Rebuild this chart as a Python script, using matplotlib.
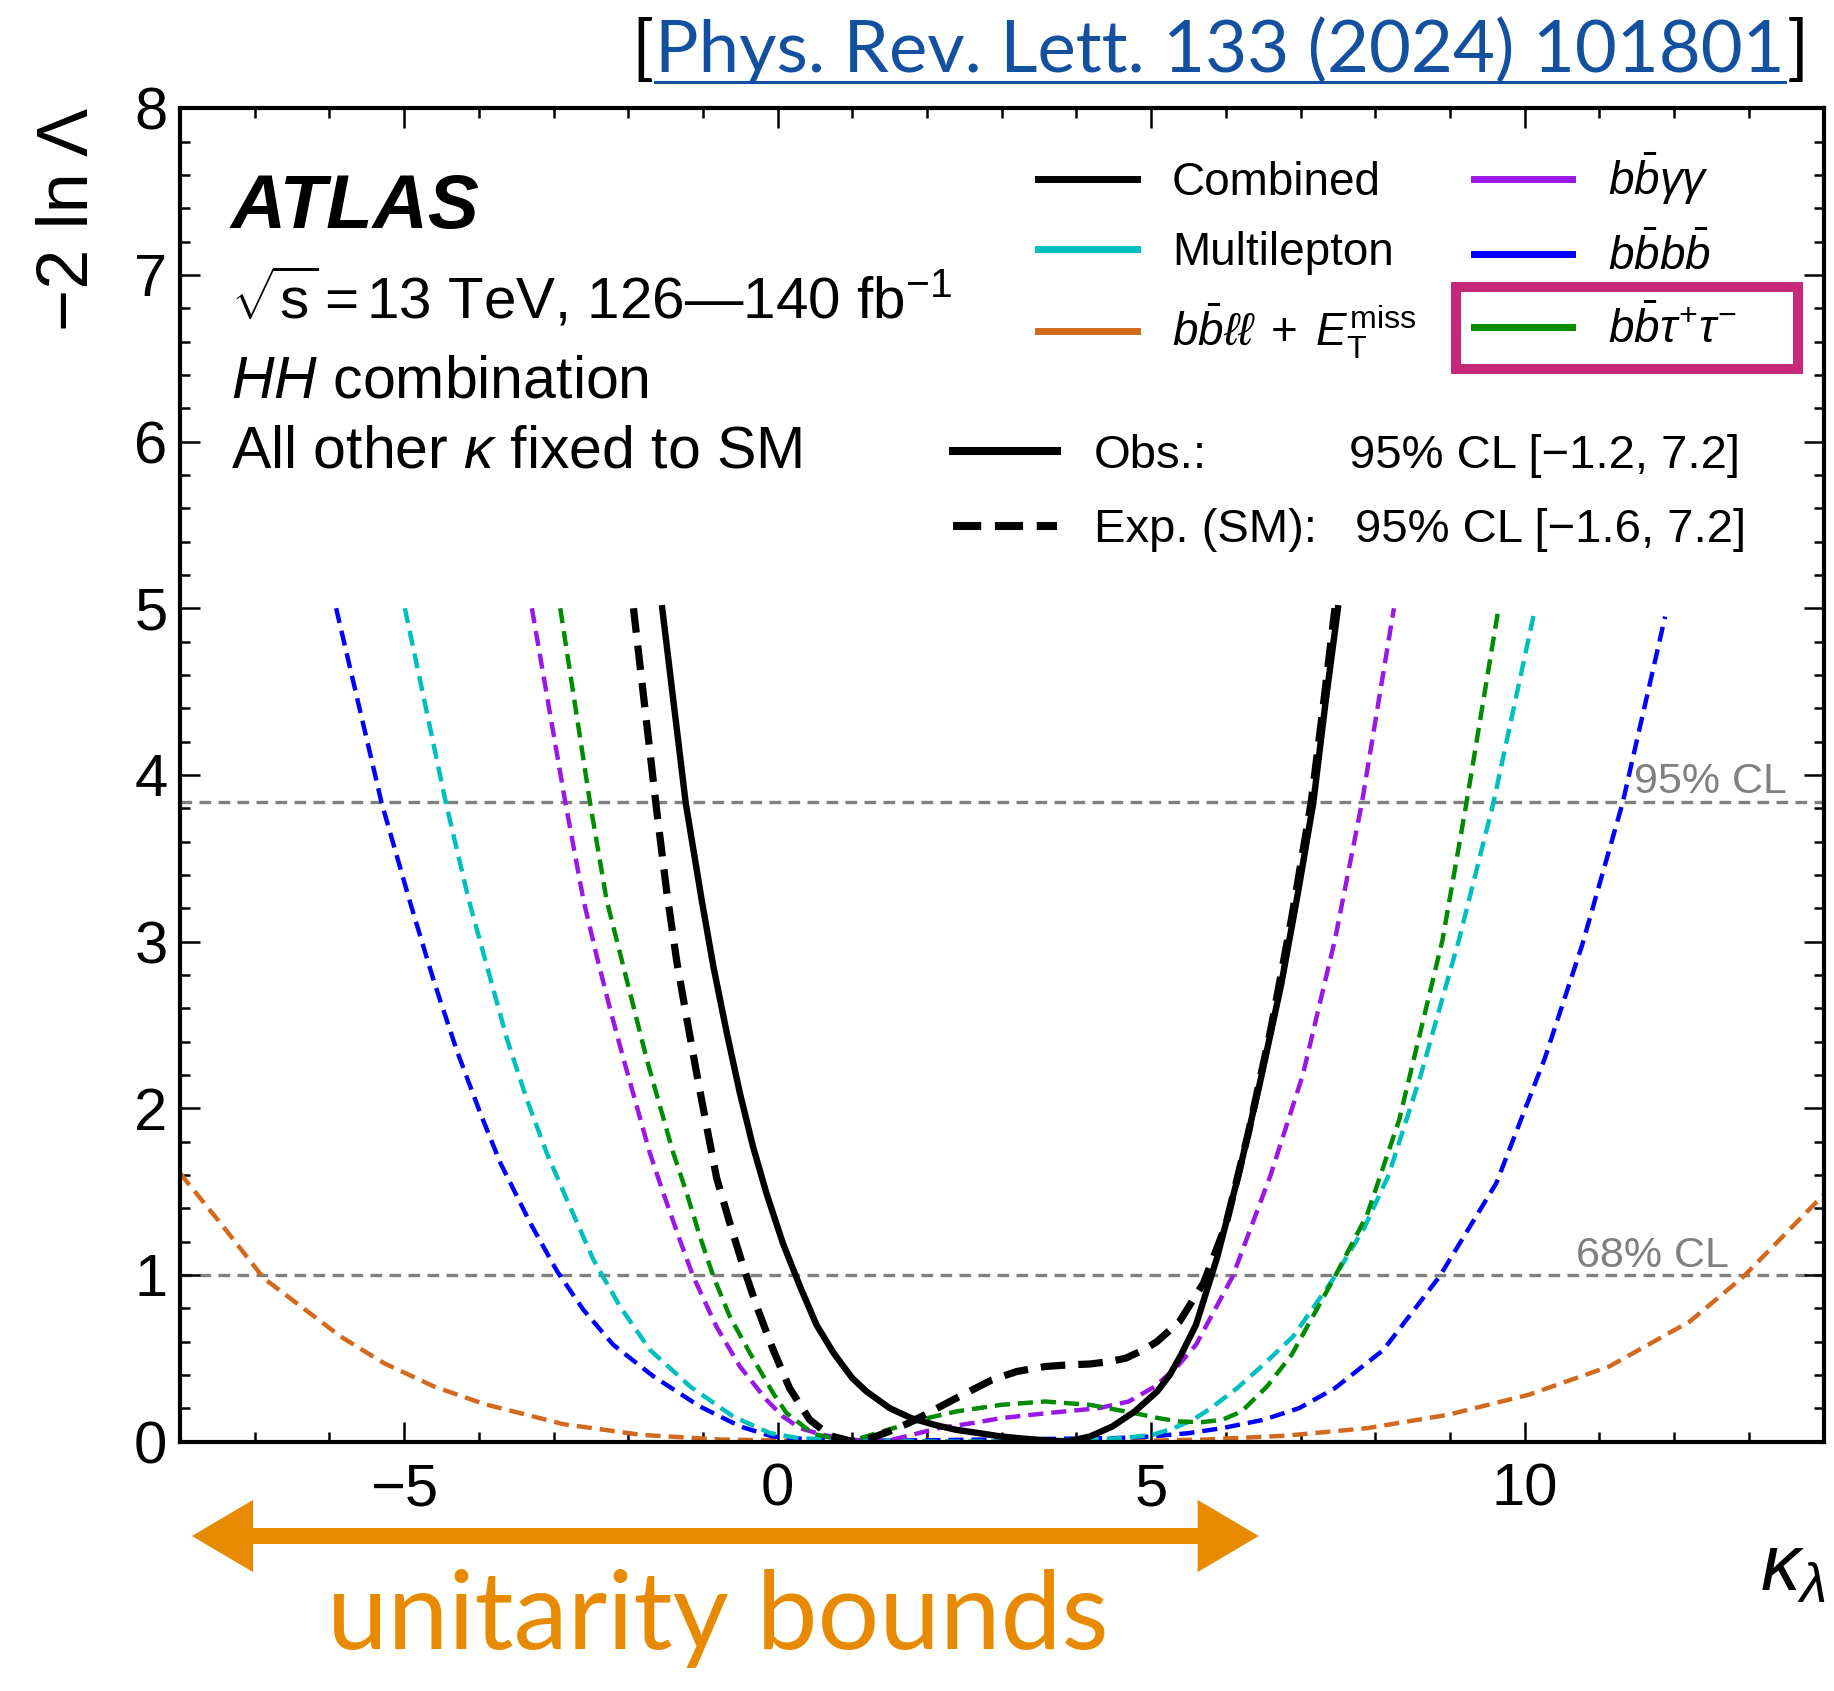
import matplotlib
matplotlib.use('Agg')
import matplotlib.pyplot as plt
import matplotlib.transforms as mtransforms
from matplotlib.lines import Line2D
from matplotlib.patches import Rectangle, FancyArrowPatch
from matplotlib.ticker import MultipleLocator

plt.rcParams['font.family'] = ['Liberation Sans', 'DejaVu Sans']
plt.rcParams['mathtext.fontset'] = 'custom'
plt.rcParams['mathtext.rm'] = 'Liberation Sans'
plt.rcParams['mathtext.it'] = 'Liberation Sans:italic'
plt.rcParams['mathtext.bf'] = 'Liberation Sans:bold'

# -2 ln Lambda scans vs kappa_lambda
obs_x = [-1.545, -1.23, -1.017, -0.86, -0.68, -0.505, -0.33, -0.15, 0.07, 0.30, 0.52, 0.75, 1.0,
         1.19, 1.5, 1.79, 2.1, 2.39, 2.7, 2.99, 3.3, 3.58, 3.88, 4.18, 4.48, 4.78, 5.08, 5.25, 5.4,
         5.6, 5.88, 6.17, 6.45, 6.74, 6.96, 7.17, 7.33, 7.5]
obs_y = [5.0, 3.83, 3.25, 2.85, 2.45, 2.09, 1.77, 1.49, 1.19, 0.93, 0.70, 0.53, 0.38,
         0.30, 0.20, 0.14, 0.10, 0.07, 0.05, 0.03, 0.017, 0.007, 0.0, 0.03, 0.09, 0.18, 0.30, 0.40,
         0.52, 0.70, 1.10, 1.60, 2.14, 2.74, 3.28, 3.83, 4.42, 5.0]

exp_x = [-1.93, -1.62, -1.485, -1.35, -1.217, -1.08, -0.95, -0.816, -0.64, -0.46, -0.28, -0.06,
         0.16, 0.43, 0.7, 1.0, 1.25, 1.49, 1.75, 1.97, 2.39, 2.87, 3.2, 3.58, 3.9, 4.18, 4.45, 4.66,
         4.9, 5.08, 5.38, 5.7, 6.0, 6.3, 6.6, 6.88, 7.14, 7.3, 7.46]
exp_y = [5.0, 3.79, 3.3, 2.88, 2.54, 2.2, 1.89, 1.58, 1.31, 1.05, 0.81, 0.55,
         0.32, 0.13, 0.035, 0.0, 0.02, 0.06, 0.11, 0.16, 0.26, 0.37, 0.42, 0.45, 0.46, 0.465, 0.48,
         0.5, 0.55, 0.6, 0.72, 0.95, 1.3, 1.85, 2.47, 3.14, 3.83, 4.4, 5.0]

yy_x = [-3.29, -2.84, -2.60, -2.42, -2.24, -2.06, -1.885, -1.71, -1.53, -1.31, -1.13, -0.82,
        -0.505, -0.15, 0.07, 0.3, 0.6, 1.0, 1.43, 1.8, 2.15, 2.6, 2.99, 3.6, 4.3, 4.7, 5.05, 5.35,
        5.6, 6.09, 6.6, 7.03, 7.46, 7.82, 8.25]
yy_y = [5.0, 3.83, 3.25, 2.91, 2.59, 2.29, 2.01, 1.73, 1.49, 1.21, 0.99, 0.69,
        0.45, 0.25, 0.15, 0.08, 0.04, 0.01, 0.0, 0.04, 0.08, 0.11, 0.14, 0.17, 0.2, 0.24, 0.33, 0.45,
        0.58, 0.99, 1.6, 2.2, 3.01, 3.83, 5.0]

tautau_x = [-2.91, -2.51, -2.29, -2.11, -1.93, -1.75, -1.574, -1.396, -1.217, -1.04, -0.86, -0.64,
            -0.37, -0.06, 0.12, 0.48, 0.96, 1.55, 2.0, 2.39, 2.99, 3.58, 4.18, 4.78, 5.1, 5.38,
            5.68, 5.95, 6.21, 6.55, 6.88, 7.46, 7.89, 8.32, 8.61, 8.9, 9.22, 9.65]
tautau_y = [5.0, 3.83, 3.25, 2.93, 2.61, 2.29, 2.01, 1.73, 1.49, 1.23, 0.99, 0.75,
            0.53, 0.29, 0.17, 0.045, 0.0, 0.08, 0.14, 0.18, 0.22, 0.24, 0.22, 0.17, 0.14, 0.12,
            0.116, 0.13, 0.18, 0.33, 0.52, 0.99, 1.36, 1.93, 2.47, 3.01, 3.83, 5.0]

ml_x = [-4.99, -4.44, -4.135, -3.89, -3.62, -3.355, -3.09, -2.82, -2.465, -2.11, -1.71, -1.17,
        -0.595, -0.1, 0.28, 1.0, 2.0, 3.0, 4.0, 4.6, 5.02, 5.3, 5.56, 5.8, 6.15, 6.5, 6.9, 7.46,
        7.85, 8.18, 8.61, 9.12, 9.58, 10.14]
ml_y = [5.0, 3.83, 3.25, 2.85, 2.41, 2.05, 1.73, 1.45, 1.09, 0.81, 0.55, 0.33,
        0.15, 0.05, 0.02, 0.005, 0.0, 0.0, 0.01, 0.02, 0.04, 0.08, 0.13, 0.2, 0.32, 0.46, 0.63, 0.99,
        1.28, 1.6, 2.2, 3.01, 3.83, 5.0]

bbbb_x = [-5.91, -5.30, -4.91, -4.60, -4.29, -3.98, -3.71, -3.31, -2.95, -2.60, -2.20, -1.66,
          -1.04, -0.5, -0.07, 0.5, 1.5, 2.5, 3.5, 4.5, 5.0, 5.5, 5.95, 6.5, 6.98, 7.46, 8.11, 8.86,
          9.62, 10.27, 10.77, 11.31, 11.88]
bbbb_y = [5.0, 3.83, 3.22, 2.76, 2.34, 1.97, 1.67, 1.31, 1.02, 0.79, 0.58, 0.39,
          0.21, 0.09, 0.03, 0.01, 0.005, 0.01, 0.015, 0.02, 0.03, 0.05, 0.08, 0.13, 0.2, 0.32, 0.55,
          0.99, 1.55, 2.3, 2.98, 3.83, 4.95]

bbll_x = [-8.0, -7.44, -6.88, -6.38, -5.85, -5.27, -4.60, -3.93, -3.27, -2.88, -1.83, -0.77, 0.5,
          2.0, 3.5, 5.0, 5.73, 6.81, 7.89, 8.97, 10.05, 11.13, 12.21, 12.93, 14.0]
bbll_y = [1.61, 1.30, 0.98, 0.81, 0.63, 0.47, 0.33, 0.225, 0.15, 0.105, 0.04, 0.012, 0.002,
          0.0, 0.0, 0.005, 0.012, 0.035, 0.08, 0.16, 0.28, 0.45, 0.72, 0.99, 1.48]

cl_levels = [1.0, 3.84]
cl_names = ['68% CL', '95% CL']
cl_label_x = [12.74, 13.51]
unitarity = [-7.84, 6.44]

c_yy = '#9a17e6'
c_ml = '#00bfbf'
c_bbbb = '#0000ff'
c_tt = '#008c00'
c_bbll = '#d2691e'
c_orange = '#e88a00'
c_link = '#1450a0'

W, H = 1834, 1691
fig = plt.figure(figsize=(W / 100, H / 100), dpi=100)
ax = fig.add_axes([180 / W, 1 - 1441.5 / H, 1643.5 / W, 1333.2 / H])

for lev in cl_levels:
    ax.axhline(lev, color='#808080', lw=2.4, dashes=(3.5, 2.2), zorder=1)
for lev, name, xl in zip(cl_levels, cl_names, cl_label_x):
    ax.text(xl, lev + 0.05, name, ha='right', va='baseline', fontsize=31, color='#808080')

dash_kw = dict(lw=3.2, dashes=(3.4, 1.8))
ax.plot(bbll_x, bbll_y, color=c_bbll, **dash_kw)
ax.plot(bbbb_x, bbbb_y, color=c_bbbb, **dash_kw)
ax.plot(ml_x, ml_y, color=c_ml, **dash_kw)
ax.plot(yy_x, yy_y, color=c_yy, **dash_kw)
ax.plot(tautau_x, tautau_y, color=c_tt, **dash_kw)
ax.plot(exp_x, exp_y, color='k', lw=5.2, dashes=(3.4, 1.8))
ax.plot(obs_x, obs_y, color='k', lw=4.6)

ax.set_xlim(-8, 14)
ax.set_ylim(0, 8)
ax.set_xticks([-5, 0, 5, 10])
ax.set_xticklabels(['\u22125', '0', '5', '10'])
ax.xaxis.set_minor_locator(MultipleLocator(1))
ax.yaxis.set_minor_locator(MultipleLocator(0.2))
ax.tick_params(which='both', direction='in', top=True, right=True, labelsize=43, width=1.8)
ax.tick_params(which='major', length=14.5)
ax.tick_params(which='minor', length=7.2)
ax.tick_params(axis='y', pad=9)
ax.tick_params(axis='x', pad=15)
for s in ax.spines.values():
    s.set_linewidth(3.0)

# axis titles
fig.text(70 / W, 1 - 108 / H, '\u22122 ln \u039b', rotation=90, ha='center', va='top', fontsize=52)
fig.text(1826 / W, 1 - 1590 / H, r'$\kappa_{\lambda}$', ha='right', va='baseline', fontsize=57)

# ATLAS label block
tx = 231 / W
fig.text(tx, 1 - 228 / H, 'ATLAS', fontsize=55, fontweight='bold', fontstyle='italic', va='baseline')
fig.text(tx, 1 - 318 / H, '$\\sqrt{\\mathrm{s}}\\,$=$\\,$13 TeV, 126\u2014140 fb$^{-1}$',
         fontsize=42, va='baseline')
fig.text(tx, 1 - 397 / H, r'$HH$ combination', fontsize=42.5, va='baseline')
fig.text(tx, 1 - 467 / H, r'All other $\kappa$ fixed to SM', fontsize=42.5, va='baseline')

# legends
ch_labels = ['Combined', 'Multilepton', r'$b\bar{b}\ell\ell\;+\;E_{\mathrm{T}}^{\mathrm{miss}}$',
             r'$b\bar{b}\gamma\gamma$', r'$b\bar{b}b\bar{b}$', r'$b\bar{b}\tau^{+}\tau^{-}$']
ch_colors = ['k', c_ml, c_bbll, c_yy, c_bbbb, c_tt]
h1 = [Line2D([], [], color=c, lw=5.0) for c in ch_colors]
leg1 = ax.legend(h1, ch_labels, ncol=2, loc='upper left',
                 bbox_to_anchor=(1038 / W, 1 - 150 / H), bbox_transform=fig.transFigure,
                 frameon=False, fontsize=33, handlelength=2.15, handletextpad=0.77,
                 columnspacing=1.25, labelspacing=0.58, borderpad=0, borderaxespad=0)
ax.add_artist(leg1)

h2 = [Line2D([], [], color='k', lw=5.8), Line2D([], [], color='k', lw=5.8, dashes=(3.5, 1.7))]
leg2 = ax.legend(h2, ['Obs.:', 'Exp. (SM):'], loc='upper left',
                 bbox_to_anchor=(953 / W, 1 - 434 / H), bbox_transform=fig.transFigure,
                 frameon=False, fontsize=34, handlelength=2.2, handletextpad=0.78,
                 labelspacing=0.64, borderpad=0, borderaxespad=0)

fig.add_artist(Rectangle((1456 / W, 1 - 369 / H), 342 / W, 82 / H, transform=fig.transFigure,
                         fill=False, edgecolor='#c8287a', lw=7.2))

fig.canvas.draw()
r = fig.canvas.get_renderer()
pix = mtransforms.IdentityTransform()

cl_texts = ['95% CL [\u22121.2, 7.2]', '95% CL [\u22121.6, 7.2]']
cl_x = [1349, 1355]
for t, s, x in zip(leg2.get_texts(), cl_texts, cl_x):
    bb = t.get_window_extent(r)
    fig.text(x, bb.y0, s, transform=pix, ha='left', va='bottom', fontsize=34)


def fit_width(t, target):
    # scale the font so the text spans the same width as in the reference
    w = t.get_window_extent(r).width
    t.set_fontsize(t.get_fontsize() * target / w)


# journal reference at top
cite_font = 'Lato'
ybase = H - 72
t_link = fig.text(0, ybase, 'Phys. Rev. Lett. 133 (2024) 101801', transform=pix, ha='right',
                  va='baseline', fontsize=50, family=cite_font, color=c_link)
fit_width(t_link, 1131)
fs_cite = t_link.get_fontsize()
t_close = fig.text(1809, ybase, ']', transform=pix, ha='right', va='baseline', fontsize=fs_cite,
                   family=cite_font)
bb = t_close.get_window_extent(r)
t_link.set_x(bb.x0 - 2)
bl = t_link.get_window_extent(r)
fig.text(bl.x0 - 2, ybase, '[', transform=pix, ha='right', va='baseline', fontsize=fs_cite,
         family=cite_font)
fig.add_artist(Line2D([bl.x0, bl.x1], [H - 82, H - 82], transform=pix, color=c_link, lw=2.2))

# unitarity bounds arrow
trans = mtransforms.blended_transform_factory(ax.transData, fig.transFigure)
ya = 1 - 1536 / H
mid = 0.5 * (unitarity[0] + unitarity[1])
for end, start in zip(unitarity, [mid + 0.4, mid - 0.4]):
    fig.add_artist(FancyArrowPatch((start, ya), (end, ya), transform=trans,
                                   arrowstyle='simple,head_length=44,head_width=52,tail_width=11.5',
                                   mutation_scale=1, color=c_orange, lw=0, shrinkA=0, shrinkB=0))
t_ub = fig.text(718 / W, 1 - 1649 / H, 'unitarity bounds', ha='center', va='baseline', fontsize=66,
                family=cite_font, color=c_orange)
fit_width(t_ub, 782)

fig.savefig('out.png', dpi=100)
